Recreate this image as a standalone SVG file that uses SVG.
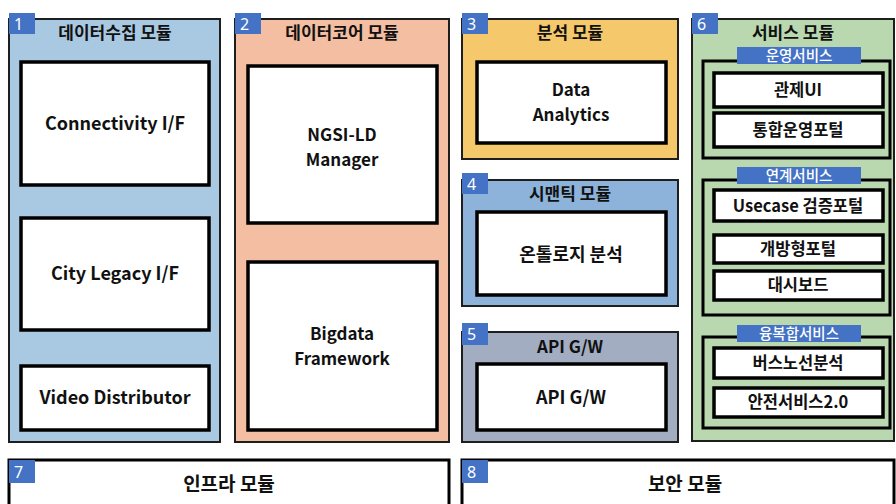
<svg xmlns="http://www.w3.org/2000/svg" width="896" height="504" viewBox="0 0 896 504">
  <defs>
    <style>
      .mod { stroke: #1e1e1e; stroke-width: 2; }
      .box { fill: #ffffff; stroke: #000000; stroke-width: 3.5; }
      .frame { fill: none; stroke: #000000; stroke-width: 3; }
      .badge { fill: #4472c4; }
      .num { font-family: "Noto Sans", "Liberation Sans", sans-serif; font-size: 16px; fill: #ffffff; }
      .title { font-family: "Noto Sans CJK KR", "Noto Sans", sans-serif; font-weight: bold; font-size: 17px; fill: #111111; text-anchor: middle; }
      .btitle { font-family: "Noto Sans CJK KR", "Noto Sans", sans-serif; font-weight: bold; font-size: 19px; fill: #111111; text-anchor: middle; }
      .txt { font-family: "Noto Sans CJK KR", "Noto Sans", sans-serif; font-weight: bold; font-size: 18px; fill: #111111; text-anchor: middle; }
      .txt2 { font-family: "Noto Sans CJK KR", "Noto Sans", sans-serif; font-weight: bold; font-size: 17px; fill: #111111; text-anchor: middle; }
      .stxt { font-family: "Noto Sans CJK KR", "Noto Sans", sans-serif; font-weight: bold; font-size: 16.5px; fill: #111111; text-anchor: middle; }
      .lab { fill: #4472c4; }
      .labtxt { font-family: "Noto Sans CJK KR", "Noto Sans", sans-serif; font-weight: 500; font-size: 14.5px; fill: #ffffff; text-anchor: middle; }
    </style>
  </defs>

  <rect width="896" height="504" fill="#ffffff"/>

  <!-- 1: data collection -->
  <g id="module1">
    <rect class="mod" x="9" y="19" width="211" height="423" fill="#a9c9e2"/>
    <rect class="badge" x="9" y="13" width="26" height="21"/>
    <text class="num" x="14" y="30">1</text>
    <text class="title" x="115" y="39">데이터수집 모듈</text>
  </g>
  <g id="connectivity">
    <rect class="box" x="21" y="62" width="188" height="123"/>
    <text class="txt" x="115" y="130">Connectivity I/F</text>
  </g>
  <g id="city-legacy">
    <rect class="box" x="21" y="218" width="188" height="112"/>
    <text class="txt" x="115" y="280">City Legacy I/F</text>
  </g>
  <g id="video-distributor">
    <rect class="box" x="21" y="366" width="188" height="64"/>
    <text class="txt" x="115" y="404">Video Distributor</text>
  </g>

  <!-- 2: data core -->
  <g id="module2">
    <rect class="mod" x="235" y="19" width="214" height="423" fill="#f3bea2"/>
    <rect class="badge" x="235" y="13" width="26" height="21"/>
    <text class="num" x="240" y="30">2</text>
    <text class="title" x="342" y="39">데이터코어 모듈</text>
  </g>
  <g id="ngsi-ld">
    <rect class="box" x="248" y="66" width="189" height="157"/>
    <text class="txt2" x="342" y="141"><tspan x="342">NGSI-LD</tspan><tspan x="342" dy="25">Manager</tspan></text>
  </g>
  <g id="bigdata">
    <rect class="box" x="248" y="262" width="189" height="168"/>
    <text class="txt2" x="342" y="340"><tspan x="342">Bigdata</tspan><tspan x="342" dy="25">Framework</tspan></text>
  </g>

  <!-- 3: analytics -->
  <g id="module3">
    <rect class="mod" x="462" y="19" width="216" height="140" fill="#f5c96b"/>
    <rect class="badge" x="462" y="13" width="26" height="21"/>
    <text class="num" x="467" y="30">3</text>
    <text class="title" x="570" y="39">분석 모듈</text>
  </g>
  <g id="data-analytics">
    <rect class="box" x="477" y="62" width="189" height="81"/>
    <text class="txt2" x="571" y="96"><tspan x="571">Data</tspan><tspan x="571" dy="25">Analytics</tspan></text>
  </g>

  <!-- 4: semantic -->
  <g id="module4">
    <rect class="mod" x="462" y="180" width="216" height="126" fill="#8db3da"/>
    <rect class="badge" x="462" y="173" width="26" height="21"/>
    <text class="num" x="467" y="190">4</text>
    <text class="title" x="570" y="200">시맨틱 모듈</text>
  </g>
  <g id="ontology">
    <rect class="box" x="477" y="212" width="189" height="83"/>
    <text class="txt" x="571" y="261">온톨로지 분석</text>
  </g>

  <!-- 5: API gateway -->
  <g id="module5">
    <rect class="mod" x="462" y="332" width="216" height="110" fill="#a3adc1"/>
    <rect class="badge" x="462" y="323" width="26" height="22"/>
    <text class="num" x="467" y="340">5</text>
    <text class="title" x="570" y="353">API G/W</text>
  </g>
  <g id="api-gw">
    <rect class="box" x="477" y="364" width="189" height="66"/>
    <text class="txt" x="571" y="404">API G/W</text>
  </g>

  <!-- 6: services -->
  <g id="module6">
    <rect class="mod" x="692" y="19" width="202" height="422" fill="#b9d8af"/>
    <rect class="badge" x="692" y="13" width="26" height="21"/>
    <text class="num" x="697" y="30">6</text>
    <text class="title" x="793" y="39">서비스 모듈</text>
  </g>

  <g id="ops-services">
    <rect class="frame" x="703" y="61" width="187" height="97"/>
    <rect class="lab" x="737" y="47" width="124" height="17"/>
    <text class="labtxt" x="799" y="61">운영서비스</text>
  </g>
  <g id="control-ui">
    <rect class="box" x="714" y="73" width="169" height="34"/>
    <text class="stxt" x="798" y="96">관제UI</text>
  </g>
  <g id="integrated-portal">
    <rect class="box" x="714" y="113" width="169" height="34"/>
    <text class="stxt" x="798" y="136">통합운영포털</text>
  </g>

  <g id="link-services">
    <rect class="frame" x="703" y="180" width="187" height="135"/>
    <rect class="lab" x="737" y="167" width="124" height="17"/>
    <text class="labtxt" x="799" y="181">연계서비스</text>
  </g>
  <g id="usecase-portal">
    <rect class="box" x="714" y="190" width="169" height="31"/>
    <text class="stxt" x="798" y="212">Usecase 검증포털</text>
  </g>
  <g id="open-portal">
    <rect class="box" x="714" y="235" width="169" height="28"/>
    <text class="stxt" x="798" y="255">개방형포털</text>
  </g>
  <g id="dashboard">
    <rect class="box" x="714" y="271" width="169" height="29"/>
    <text class="stxt" x="798" y="291">대시보드</text>
  </g>

  <g id="convergence-services">
    <rect class="frame" x="703" y="337" width="187" height="91"/>
    <rect class="lab" x="737" y="325" width="124" height="17"/>
    <text class="labtxt" x="799" y="339">융복합서비스</text>
  </g>
  <g id="bus-route">
    <rect class="box" x="714" y="348" width="169" height="30"/>
    <text class="stxt" x="798" y="369">버스노선분석</text>
  </g>
  <g id="safety-service">
    <rect class="box" x="714" y="388" width="169" height="29"/>
    <text class="stxt" x="798" y="408">안전서비스2.0</text>
  </g>

  <!-- 7: infrastructure -->
  <g id="module7">
    <rect x="9" y="460" width="440" height="60" fill="#ffffff" stroke="#000000" stroke-width="3"/>
    <rect class="badge" x="9" y="460" width="26" height="23"/>
    <text class="num" x="14" y="478">7</text>
    <text class="btitle" x="229" y="491">인프라 모듈</text>
  </g>

  <!-- 8: security -->
  <g id="module8">
    <rect x="462" y="460" width="432" height="60" fill="#ffffff" stroke="#000000" stroke-width="3"/>
    <rect class="badge" x="462" y="460" width="26" height="23"/>
    <text class="num" x="467" y="478">8</text>
    <text class="btitle" x="685" y="491">보안 모듈</text>
  </g>

  <g id="connectors"></g>
</svg>
